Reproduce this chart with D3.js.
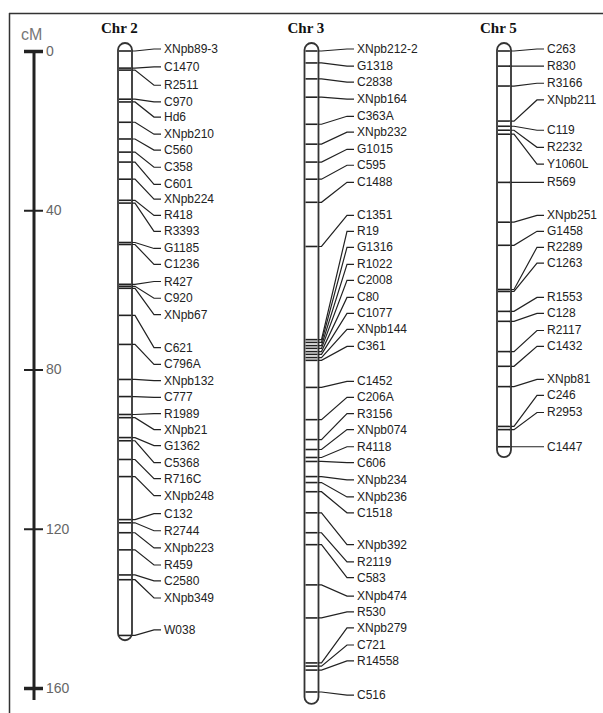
<!DOCTYPE html>
<html><head><meta charset="utf-8">
<script src="https://cdn.jsdelivr.net/npm/d3@7"></script>
<style>body{margin:0;background:#fff}svg{display:block}</style>
</head><body>
<svg id="c" width="603" height="713"></svg>
<script>
// ---------- DATA ----------
const chromosomes = ["Chr 2", "Chr 3", "Chr 5"];
const chrLengths = [148, 164, 102];           // cM
const axisTicks = [0, 40, 80, 120, 160];

const chr2Markers = ["XNpb89-3","C1470","R2511","C970","Hd6","XNpb210","C560","C358","C601","XNpb224","R418","R3393","G1185","C1236","R427","C920","XNpb67","C621","C796A","XNpb132","C777","R1989","XNpb21","G1362","C5368","R716C","XNpb248","C132","R2744","XNpb223","R459","C2580","XNpb349","W038"];
const chr2Pos = [0,4.3,4.8,12.1,12.8,17.9,22.1,25.4,27.9,32.2,37.5,38.2,48.1,48.6,58.6,59.1,59.6,66.4,73.7,82.5,86.8,91.3,92.1,97.1,97.9,102.6,106.9,117.7,118.5,121.0,125.3,131.6,132.8,146.8];
const chr2LabelPos = [-0.5,4.0,8.6,12.8,16.6,20.9,24.9,29.2,33.5,37.2,41.3,45.3,49.6,53.6,57.9,62.1,66.2,74.5,78.7,82.8,87.0,91.1,95.1,99.1,103.4,107.4,111.7,116.2,120.5,124.8,129.1,133.1,137.4,145.4];

const chr3Markers = ["XNpb212-2","G1318","C2838","XNpb164","C363A","XNpb232","G1015","C595","C1488","C1351","R19","G1316","R1022","C2008","C80","C1077","XNpb144","C361","C1452","C206A","R3156","XNpb074","R4118","C606","XNpb234","XNpb236","C1518","XNpb392","R2119","C583","XNpb474","R530","XNpb279","C721","R14558","C516"];
const chr3Pos = [0,3.0,7.0,11.6,18.4,23.4,27.9,32.2,38.0,49.1,72.5,73.2,74.0,74.7,75.5,76.2,77.0,77.7,84.5,92.6,97.6,100.1,102.1,103.1,106.9,108.4,110.7,116.0,121.0,124.0,134.1,142.4,153.7,154.5,155.5,161.0];
const chr3LabelPos = [-0.5,3.8,7.8,12.1,16.4,20.4,24.7,28.7,33.0,41.3,45.3,49.3,53.6,57.6,61.9,65.9,69.9,74.2,83.0,87.0,91.1,95.1,99.4,103.4,107.7,112.0,116.0,124.0,128.3,132.3,136.9,140.9,144.9,149.2,153.2,161.8];

const chr5Markers = ["C263","R830","R3166","XNpb211","C119","R2232","Y1060L","R569","XNpb251","G1458","R2289","C1263","R1553","C128","R2117","C1432","XNpb81","C246","R2953","C1447"];
const chr5Pos = [0,3.8,8.8,17.6,18.9,19.9,20.9,33.0,43.0,48.8,59.9,60.4,65.4,67.9,75.5,79.2,84.3,94.3,95.1,99.4];
const chr5LabelPos = [-0.5,3.8,8.1,12.3,19.9,24.2,28.4,33.0,41.3,45.3,49.3,53.3,61.9,65.9,70.2,74.2,82.5,86.5,90.8,99.4];

// ---------- DRAW ----------
const svg = d3.select("#c");
const y = d3.scaleLinear().domain([0, 160]).range([51, 688]);
const barLeft = d3.scaleOrdinal().domain(chromosomes).range([118, 304.5, 497]);
const labelX = d3.scaleOrdinal().domain(chromosomes).range([164, 357, 547]);
const barW = 14;
const ink = "#222";

// frame
svg.append("line").attr("x1", 9.5).attr("x2", 9.5).attr("y1", 13).attr("y2", 713).attr("stroke", "#333").attr("stroke-width", 1.5);
svg.append("line").attr("x1", 9).attr("x2", 603).attr("y1", 13.5).attr("y2", 13.5).attr("stroke", "#333").attr("stroke-width", 1.5);

// scale axis
const ax = 34;
svg.append("text").attr("x", 21).attr("y", 40).text("cM")
  .attr("font-family", "Liberation Sans, Arial, sans-serif").attr("font-size", 16).attr("fill", "#777");
svg.append("line").attr("x1", ax).attr("x2", ax).attr("y1", y(0) - 1).attr("y2", y(160) + 12)
  .attr("stroke", ink).attr("stroke-width", 3);
const axisG = svg.append("g").attr("transform", `translate(${ax},0)`)
  .call(d3.axisRight(y).tickValues(axisTicks).tickSize(9).tickPadding(3));
axisG.select(".domain").remove();
axisG.selectAll(".tick line").attr("stroke", ink).attr("stroke-width", d => (d === 0 || d === 160) ? 3.5 : 2)
  .attr("x1", -10);
axisG.selectAll(".tick text").attr("fill", "#666").attr("font-size", 14)
  .attr("font-family", "Liberation Sans, Arial, sans-serif");

const chrData = [
  {name: chromosomes[0], len: chrLengths[0], markers: chr2Markers, pos: chr2Pos, lab: chr2LabelPos},
  {name: chromosomes[1], len: chrLengths[1], markers: chr3Markers, pos: chr3Pos, lab: chr3LabelPos},
  {name: chromosomes[2], len: chrLengths[2], markers: chr5Markers, pos: chr5Pos, lab: chr5LabelPos}
];

const line = d3.line();
chrData.forEach(c => {
  const bx = barLeft(c.name), lx = labelX(c.name);
  const g = svg.append("g");
  g.append("text").attr("x", bx - 17).attr("y", 33).text(c.name)
    .attr("font-family", "Liberation Serif, Times New Roman, serif").attr("font-weight", "bold")
    .attr("font-size", 15).attr("fill", "#111");
  const top = y(0) - 8, bot = y(c.len);
  g.append("rect").attr("x", bx).attr("y", top).attr("width", barW).attr("height", bot - top)
    .attr("rx", barW / 2).attr("ry", 7).attr("fill", "#fff").attr("stroke", "#333").attr("stroke-width", 1.8);
  c.markers.forEach((m, i) => {
    const my = y(c.pos[i]), ly = y(c.lab[i]);
    g.append("line").attr("x1", bx + 1).attr("x2", bx + barW - 1).attr("y1", my).attr("y2", my)
      .attr("stroke", ink).attr("stroke-width", 1.6);
    g.append("path").attr("d", line([[bx + barW, my], [bx + barW + 3, my], [lx - 10, ly], [lx - 3, ly]]))
      .attr("fill", "none").attr("stroke", ink).attr("stroke-width", 1.2);
    g.append("text").attr("x", lx).attr("y", ly + 4).text(m)
      .attr("font-family", "Liberation Sans, Arial, sans-serif").attr("font-size", 12).attr("fill", "#222");
  });
});
</script>
</body></html>
